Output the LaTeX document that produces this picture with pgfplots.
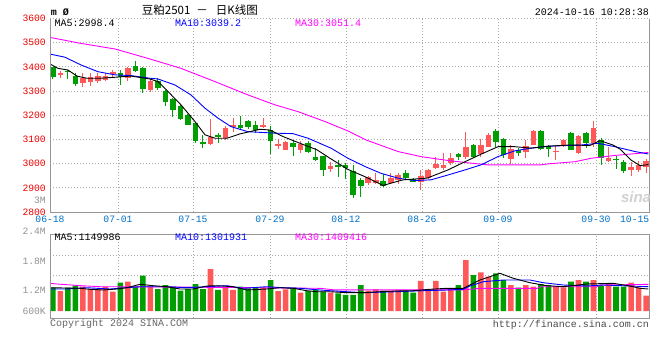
\documentclass[border=0pt]{standalone}
\usepackage{fontspec}
\usepackage{pgfplots}
\usepackage{pgfplotstable}
\pgfplotsset{compat=1.18}
\newfontfamily\mono{Liberation Mono}
\newfontfamily\sansf{Liberation Sans}
\newfontfamily\cjk{Noto Sans CJK SC}
\definecolor{upred}{RGB}{255,88,88}
\definecolor{dngreen}{RGB}{0,158,0}
\definecolor{tickblue}{RGB}{0,112,200}
\definecolor{gridgray}{RGB}{170,170,170}
\definecolor{framegray}{RGB}{150,150,150}
\definecolor{mathirty}{RGB}{255,0,255}
\definecolor{ticred}{RGB}{235,0,0}

% candles: x open high low close
\pgfplotstableread{
x o h l c
1 3368 3384 3352 3375
4 3332 3374 3318 3354
5 3336 3374 3322 3359
6 3340 3376 3332 3364
7 3347 3375 3340 3362
8 3375 3388 3357 3378
10 3352 3400 3342 3397
13 3305 3350 3295 3343
21 3081 3184 3078 3112
23 3108 3156 3098 3149
24 3153 3187 3132 3160
28 3151 3190 3146 3159
30 3075 3100 3060 3081
31 3058 3092 3055 3089
33 3058 3095 3045 3082
37 2977 3008 2967 2992
42 2920 2950 2913 2946
43 2920 2961 2915 2933
45 2918 2962 2914 2940
46 2934 2960 2914 2952
49 2925 2975 2892 2950
50 2940 2978 2935 2974
51 2982 3028 2978 3000
52 2983 3043 2972 2996
53 3004 3045 2994 3025
55 3026 3132 3020 3070
57 3039 3102 3029 3077
58 3070 3126 3068 3119
61 3020 3077 2999 3062
63 3048 3098 3025 3074
64 3077 3140 3075 3136
67 3047 3073 3016 3054
68 3072 3102 3068 3098
70 3043 3118 3041 3114
72 3086 3175 3070 3149
74 3011 3070 3008 3025
77 2974 3008 2948 2988
78 2974 3011 2966 2995
79 2987 3018 2962 3010
}\upc
\pgfplotstableread{
x o h l c
0 3398 3400 3350 3357
2 3385 3386 3350 3378
3 3364 3374 3322 3329
9 3373 3387 3325 3360
11 3404 3424 3378 3381
12 3394 3398 3290 3307
14 3340 3352 3305 3312
15 3300 3303 3240 3256
16 3268 3272 3194 3222
17 3240 3245 3180 3185
18 3200 3205 3158 3160
19 3167 3172 3084 3092
20 3090 3119 3066 3080
22 3120 3125 3087 3110
25 3160 3197 3139 3147
26 3175 3180 3145 3153
27 3160 3176 3126 3137
29 3139 3157 3038 3095
32 3086 3092 3030 3067
34 3084 3095 3044 3050
35 3029 3065 3012 3017
36 3030 3032 2950 2973
38 2995 3015 2946 2987
39 2996 3003 2938 2983
40 2968 2995 2857 2871
41 2933 2940 2861 2906
44 2930 2956 2902 2908
47 2960 2973 2932 2940
48 2935 2940 2922 2925
54 3038 3046 3015 3026
56 3077 3080 3024 3029
59 3136 3143 3068 3088
60 3101 3108 3025 3037
62 3055 3064 3030 3045
65 3136 3138 3058 3060
66 3071 3077 3029 3060
69 3128 3132 3055 3057
71 3128 3130 3065 3084
73 3098 3106 2995 3022
75 3020 3030 2978 3015
76 3007 3015 2962 2968
}\dnc

\pgfplotstableread{
x y
-0.37 3412
0.69 3394
2.02 3387
3.22 3362
4.55 3353
6.28 3353
8.28 3357
10.41 3362
12.94 3350
14.01 3339
15.34 3298
17.07 3243
18.93 3174
20.27 3119
21.6 3105
23.2 3105
24.93 3123
27.59 3142
28.92 3139
30.65 3112
32.92 3084
35.18 3057
36.91 3022
39.31 2976
41.57 2946
43.97 2910
46.63 2933
49.83 2940
52.62 2974
54.89 3008
57.02 3039
59.28 3070
61.54 3070
63.67 3064
65.94 3072
68.87 3077
71.53 3075
72.86 3095
74.6 3077
75.53 3060
76.99 3015
78.19 2992
79.3 2996
}\mafive
\pgfplotstableread{
x y
-0.37 3453
1.62 3440
3.75 3408
6.02 3380
8.28 3367
10.41 3364
12.94 3353
14.01 3350
16.28 3325
18.4 3284
20.27 3229
22.0 3188
23.73 3153
25.99 3132
29.59 3126
31.98 3124
33.99 3105
37.04 3064
39.31 3022
41.57 2988
43.7 2960
45.97 2940
48.23 2930
50.36 2933
52.62 2953
54.89 2974
57.02 2995
59.28 3029
61.54 3053
63.67 3064
65.94 3072
70.33 3077
72.6 3084
74.86 3070
77.52 3050
79.3 3040
}\maten
\pgfplotstableread{
x y
-0.37 3522
3.75 3497
8.28 3474
12.68 3435
17.07 3394
21.6 3339
25.99 3284
29.59 3243
32.65 3215
36.24 3174
39.31 3135
41.7 3098
45.97 3050
49.03 3029
52.62 3013
55.69 3002
57.95 2995
65.0 2995
65.94 2999
69.53 3008
71.66 3022
74.86 3034
79.3 3046
}\mathirtyt

% volume
\pgfplotstableread{
x v
1 1110000
4 1350000
5 1220000
6 1220000
7 1350000
8 1070000
10 1630000
13 1350000
21 2330000
23 1310000
24 1170000
28 1300000
30 1110000
31 1200000
33 1020000
37 1020000
42 1130000
43 1200000
45 1130000
46 1170000
49 1670000
50 1130000
51 1670000
52 1070000
53 1200000
55 2830000
57 2150000
58 1910000
61 1440000
63 1440000
64 1350000
67 1350000
68 1310000
70 1720000
72 1720000
74 1540000
77 1570000
78 1300000
79 850000
}\upv
\pgfplotstableread{
x v
0 1300000
2 1300000
3 1410000
9 1570000
11 1350000
12 1960000
14 1220000
15 1440000
16 1350000
17 1130000
18 1220000
19 1500000
20 1220000
22 1170000
25 1350000
26 1260000
27 1300000
29 1720000
32 1300000
34 1110000
35 1170000
36 1070000
38 980000
39 890000
40 890000
41 1440000
44 1130000
47 1130000
48 1020000
54 1440000
56 2000000
59 2090000
60 1720000
62 1300000
65 1500000
66 1440000
69 1630000
71 1630000
73 1410000
75 1350000
76 1350000
}\dnv
\pgfplotstableread{
x v
-0.37 1294000
3.62 1261000
4.95 1206000
6.72 1167000
8.51 1222000
9.84 1294000
11.61 1483000
13.38 1406000
15.17 1350000
16.94 1222000
18.71 1222000
20.49 1389000
21.82 1406000
24.03 1350000
25.82 1167000
28.48 1222000
30.25 1294000
32.02 1261000
33.81 1128000
35.14 1072000
36.91 1072000
39.13 1017000
41.34 1017000
43.57 1072000
45.79 1111000
48.0 1128000
50.23 1206000
52.45 1261000
54.66 1261000
56.88 1722000
58.21 1906000
59.55 2094000
61.32 1817000
63.54 1572000
65.77 1406000
67.98 1350000
71.09 1500000
74.63 1539000
76.86 1389000
78.19 1261000
79.3 1222000
}\vfive
\pgfplotstableread{
x v
-0.37 1222000
1.85 1222000
4.51 1294000
7.62 1222000
9.84 1294000
11.61 1350000
15.17 1350000
17.83 1294000
20.49 1350000
23.16 1406000
25.37 1261000
28.48 1350000
30.69 1294000
32.92 1261000
35.58 1167000
36.91 1128000
41.34 1017000
45.79 1072000
49.33 1128000
52.45 1167000
54.66 1206000
55.55 1389000
57.32 1628000
59.99 1722000
63.54 1722000
65.31 1572000
67.98 1444000
71.09 1389000
73.30 1444000
79.3 1350000
}\vten
\pgfplotstableread{
x v
-0.37 1540000
0.56 1500000
3.62 1410000
6.28 1350000
19.6 1320000
35.6 1260000
37.6 1170000
54.6 1170000
56.9 1260000
64.5 1260000
64.9 1350000
72.5 1350000
72.9 1440000
79.3 1480000
}\vthirty

\begin{document}
\begin{tikzpicture}[x=1pt,y=1pt]
\fill[white] (0,0) rectangle (660,360);
\path[use as bounding box] (0,0) rectangle (660,360);

\begin{axis}[
  at={(50pt,148pt)}, anchor=south west,
  scale only axis, width=599pt, height=193.5pt,
  xmin=-0.373, xmax=79.39, ymin=2800, ymax=3600,
  axis line style={draw=none},
  major tick length=0pt,
  xtick={-0.373,8.68,18.67,28.92,39.04,49.16,59.28,72.33},
  xticklabels={06-18,07-01,07-15,07-29,08-12,08-26,09-09,09-30},
  extra x ticks={77.48}, extra x tick labels={10-15},
  extra x tick style={grid=none},
  ytick={2800,2900,3000,3100,3200,3300,3400,3500,3600},
  yticklabels={2800,2900,3000,3100,3200,3300,3400,3500,3600},
  grid=major,
  grid style={gridgray, dash pattern=on 1pt off 2pt, line width=0.8pt},
  xticklabel style={font=\fontsize{9.7}{10}\mono, text=tickblue, anchor=north, inner sep=0pt, yshift=-4pt},
  yticklabel style={font=\fontsize{9.7}{10}\mono, text=ticred, anchor=east, inner sep=0pt, xshift=-4pt},
  clip=false,
]
% wicks
\addplot[draw=none, mark=none, forget plot, error bars/.cd, y dir=both, y explicit, error mark=none,
  error bar style={draw=upred, solid, line width=1pt}]
  table[x=x, y expr={(\thisrow{h}+\thisrow{l})/2}, y error expr={(\thisrow{h}-\thisrow{l})/2}]{\upc};
\addplot[draw=none, mark=none, forget plot, error bars/.cd, y dir=both, y explicit, error mark=none,
  error bar style={draw=dngreen, solid, line width=1pt}]
  table[x=x, y expr={(\thisrow{h}+\thisrow{l})/2}, y error expr={(\thisrow{h}-\thisrow{l})/2}]{\dnc};
% bodies
\addplot[draw=none, mark=none, forget plot, error bars/.cd, y dir=both, y explicit, error mark=none,
  error bar style={draw=upred, solid, line width=5.6pt}]
  table[x=x, y expr={(\thisrow{o}+\thisrow{c})/2}, y error expr={max(abs(\thisrow{c}-\thisrow{o})/2,2)}]{\upc};
\addplot[draw=none, mark=none, forget plot, error bars/.cd, y dir=both, y explicit, error mark=none,
  error bar style={draw=dngreen, solid, line width=5.6pt}]
  table[x=x, y expr={(\thisrow{o}+\thisrow{c})/2}, y error expr={max(abs(\thisrow{c}-\thisrow{o})/2,2)}]{\dnc};
% moving averages
\addplot[mathirty, line width=0.9pt, mark=none] table[x=x,y=y]{\mathirtyt};
\addplot[blue, line width=0.9pt, mark=none] table[x=x,y=y]{\maten};
\addplot[black, line width=0.9pt, mark=none] table[x=x,y=y]{\mafive};
\draw[framegray, line width=0.9pt] (rel axis cs:0,1) -- (rel axis cs:0,0) -- (rel axis cs:1,0) -- (rel axis cs:1,1);
\end{axis}

\begin{axis}[
  at={(50pt,42pt)}, anchor=south west,
  scale only axis, width=599pt, height=84pt,
  xmin=-0.373, xmax=79.39, ymin=-389000, ymax=4278000,
  axis line style={draw=none},
  major tick length=0pt,
  xtick={8.68,18.67,28.92,39.04,49.16,59.28,72.33}, xticklabels={,,,,,,},
  ytick={2000000,3111000}, yticklabels={,},
  scaled y ticks=false, scaled x ticks=false,
  grid=major,
  grid style={gridgray, dash pattern=on 1pt off 2pt, line width=0.8pt},
  clip=false,
]
\addplot[ybar, bar width=5.6pt, bar shift=0pt, fill=upred, draw=none] table[x=x,y=v]{\upv};
\addplot[ybar, bar width=5.6pt, bar shift=0pt, fill=dngreen, draw=none] table[x=x,y=v]{\dnv};
\addplot[mathirty, line width=0.9pt, mark=none] table[x=x,y=v]{\vthirty};
\addplot[blue, line width=0.9pt, mark=none] table[x=x,y=v]{\vten};
\addplot[black, line width=0.9pt, mark=none] table[x=x,y=v]{\vfive};
\draw[framegray, line width=0.9pt] (rel axis cs:0,0) rectangle (rel axis cs:1,1);
\end{axis}

% header
\node[anchor=base west, inner sep=0pt, font=\fontsize{10}{12}\mono\bfseries] at (50.7,344.3) {m Ø};
\node[anchor=base west, inner sep=0pt, font=\fontsize{11.5}{13}\cjk] at (141.7,345.5) {豆粕2501\hspace{6pt}－\hspace{8pt}日K线图};
\node[anchor=base east, inner sep=0pt, font=\fontsize{10}{12}\mono] at (649,345) {2024-10-16 10:28:38};
% legends
\node[anchor=base west, inner sep=0pt, font=\fontsize{10}{12}\mono, text=black] at (54.3,333.3) {MA5:2998.4};
\node[anchor=base west, inner sep=0pt, font=\fontsize{10}{12}\mono, text=blue] at (175,333.3) {MA10:3039.2};
\node[anchor=base west, inner sep=0pt, font=\fontsize{10}{12}\mono, text=mathirty] at (295,333.3) {MA30:3051.4};
\node[anchor=base west, inner sep=0pt, font=\fontsize{10}{12}\mono, text=black] at (54.3,119.3) {MA5:1149986};
\node[anchor=base west, inner sep=0pt, font=\fontsize{10}{12}\mono, text=blue] at (175,119.3) {MA10:1301931};
\node[anchor=base west, inner sep=0pt, font=\fontsize{10}{12}\mono, text=mathirty] at (295,119.3) {MA30:1409416};
% volume labels
\node[anchor=base east, inner sep=0pt, font=\fontsize{9.7}{10}\mono, text=gray!85] at (46,156.7) {3M};
\node[anchor=base east, inner sep=0pt, font=\fontsize{9.7}{10}\mono, text=gray!85] at (46,126) {2.4M};
\node[anchor=base east, inner sep=0pt, font=\fontsize{9.7}{10}\mono, text=gray!85] at (46,95.7) {1.8M};
\node[anchor=base east, inner sep=0pt, font=\fontsize{9.7}{10}\mono, text=gray!85] at (46,66.7) {1.2M};
\node[anchor=base east, inner sep=0pt, font=\fontsize{9.7}{10}\mono, text=gray!85] at (46,45.7) {600K};
% footer
\node[anchor=base west, inner sep=0pt, font=\fontsize{10}{12}\mono, text=black!60] at (50,33.3) {Copyright 2024 SINA.COM};
\node[anchor=base east, inner sep=0pt, font=\fontsize{10}{12}\mono, text=black!70] at (649,33) {http://finance.sina.com.cn};
% watermark
\node[inner sep=0pt, font=\fontsize{15}{16}\sansf\bfseries\itshape, text=black!18] at (636,163) {sina};
\end{tikzpicture}
\end{document}
